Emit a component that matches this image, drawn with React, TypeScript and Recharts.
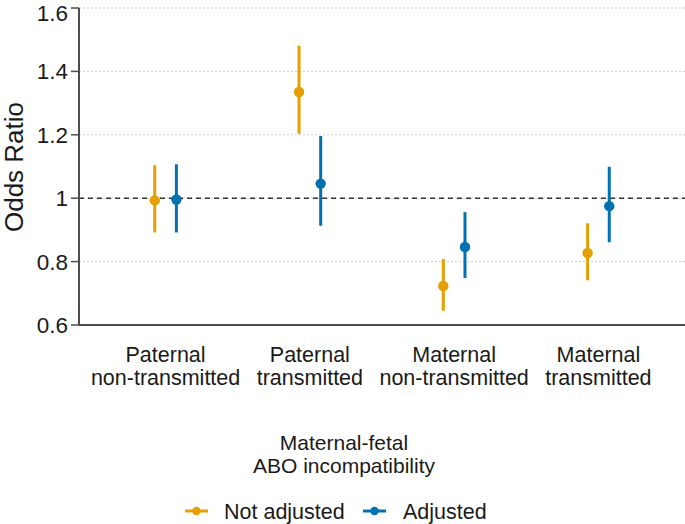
import { ScatterChart, Scatter, XAxis, YAxis, CartesianGrid, ReferenceLine, ErrorBar, Legend, Label } from 'recharts';

const categories = [
  ['Paternal', 'non-transmitted'],
  ['Paternal', 'transmitted'],
  ['Maternal', 'non-transmitted'],
  ['Maternal', 'transmitted'],
];

const seriesNames = ['Not adjusted', 'Adjusted'];

// odds ratio, lower and upper CI, one entry per category
const notAdjustedOR = [0.993, 1.335, 0.723, 0.827];
const notAdjustedLow = [0.892, 1.203, 0.645, 0.741];
const notAdjustedHigh = [1.104, 1.481, 0.808, 0.921];

const adjustedOR = [0.996, 1.046, 0.846, 0.975];
const adjustedLow = [0.892, 0.913, 0.748, 0.861];
const adjustedHigh = [1.107, 1.196, 0.956, 1.099];

const yTicks = [0.6, 0.8, 1, 1.2, 1.4, 1.6];
const xTicks = [1, 2, 3, 4];

const ORANGE = '#E69F00';
const BLUE = '#0072B2';
const FONT = '"Liberation Sans", Arial, sans-serif';
const DODGE = 0.075;

const buildSeries = (or: number[], lo: number[], hi: number[], shift: number) =>
  or.map((v, i) => ({ x: i + 1 + shift, y: v, err: [v - lo[i], hi[i] - v] }));

const notAdjusted = buildSeries(notAdjustedOR, notAdjustedLow, notAdjustedHigh, -DODGE);
const adjusted = buildSeries(adjustedOR, adjustedLow, adjustedHigh, DODGE);

const Dot = (color: string) => (props: any) => (
  <circle cx={props.cx} cy={props.cy} r={5.2} fill={color} />
);

const CategoryTick = ({ x, y, payload }: any) => {
  const lines = categories[payload.value - 1] || [];
  return (
    <text x={x} y={y} textAnchor="middle" fontSize={21.5} fill="#1a1a1a" fontFamily={FONT}>
      <tspan x={x} dy={29}>{lines[0]}</tspan>
      <tspan x={x} dy={23}>{lines[1]}</tspan>
    </text>
  );
};

const LegendBox = ({ payload }: any) => {
  const items = seriesNames
    .map((n) => (payload || []).find((p: any) => p.value === n))
    .filter(Boolean);
  const starts = [185, 363];
  const textX = [224, 403];
  return (
    <svg width={685} height={110} style={{ display: 'block' }} fontFamily={FONT}>
      <text x={344} y={36} textAnchor="middle" fontSize={21} fill="#1a1a1a">Maternal-fetal</text>
      <text x={344} y={59} textAnchor="middle" fontSize={21} fill="#1a1a1a">ABO incompatibility</text>
      {items.map((it: any, i: number) => (
        <g key={it.value}>
          <line x1={starts[i]} x2={starts[i] + 23} y1={97} y2={97} stroke={it.color} strokeWidth={3} />
          <circle cx={starts[i] + 11.5} cy={97} r={4.2} fill={it.color} />
          <text x={textX[i]} y={105} fontSize={21.5} fill="#1a1a1a">{it.value}</text>
        </g>
      ))}
    </svg>
  );
};

export default function App() {
  return (
    <div style={{ position: 'absolute', left: 0, top: 0, width: 685, height: 524, background: '#fff' }}>
      <ScatterChart width={685} height={524} margin={{ top: 8, right: 0, bottom: 0, left: 0 }}>
        <CartesianGrid vertical={false} stroke="#cfcfcf" strokeDasharray="2 2" />
        <XAxis
          type="number"
          dataKey="x"
          domain={[0.4, 4.6]}
          ticks={xTicks}
          allowDataOverflow
          tickLine={false}
          axisLine={{ stroke: '#4d4d4d', strokeWidth: 2 }}
          height={89}
          tick={<CategoryTick />}
          interval={0}
        />
        <YAxis
          type="number"
          dataKey="y"
          domain={[0.6, 1.6]}
          ticks={yTicks}
          allowDataOverflow
          width={79}
          tickSize={8}
          tickMargin={3}
          tickLine={{ stroke: '#4d4d4d', strokeWidth: 1.5 }}
          axisLine={{ stroke: '#4d4d4d', strokeWidth: 2 }}
          tick={{ fontSize: 22.5, fill: '#1a1a1a', fontFamily: FONT }}
          tickFormatter={(v: number) => (v === 1 ? '1' : v.toFixed(1))}
        >
          <Label
            content={() => (
              <text x={23} y={167} transform="rotate(-90 23 167)" textAnchor="middle" fontSize={26} fill="#1a1a1a" fontFamily={FONT}>
                Odds Ratio
              </text>
            )}
          />
        </YAxis>
        <ReferenceLine y={1} stroke="#333" strokeWidth={1.5} strokeDasharray="5 4" />
        <Legend verticalAlign="bottom" content={<LegendBox />} wrapperStyle={{ left: 0, width: 685, lineHeight: 0 }} />
        <Scatter name="Not adjusted" data={notAdjusted} fill={ORANGE} shape={Dot(ORANGE)} isAnimationActive={false}>
          <ErrorBar dataKey="err" direction="y" width={0} stroke={ORANGE} strokeWidth={3} isAnimationActive={false} />
        </Scatter>
        <Scatter name="Adjusted" data={adjusted} fill={BLUE} shape={Dot(BLUE)} isAnimationActive={false}>
          <ErrorBar dataKey="err" direction="y" width={0} stroke={BLUE} strokeWidth={3} isAnimationActive={false} />
        </Scatter>
      </ScatterChart>
    </div>
  );
}
